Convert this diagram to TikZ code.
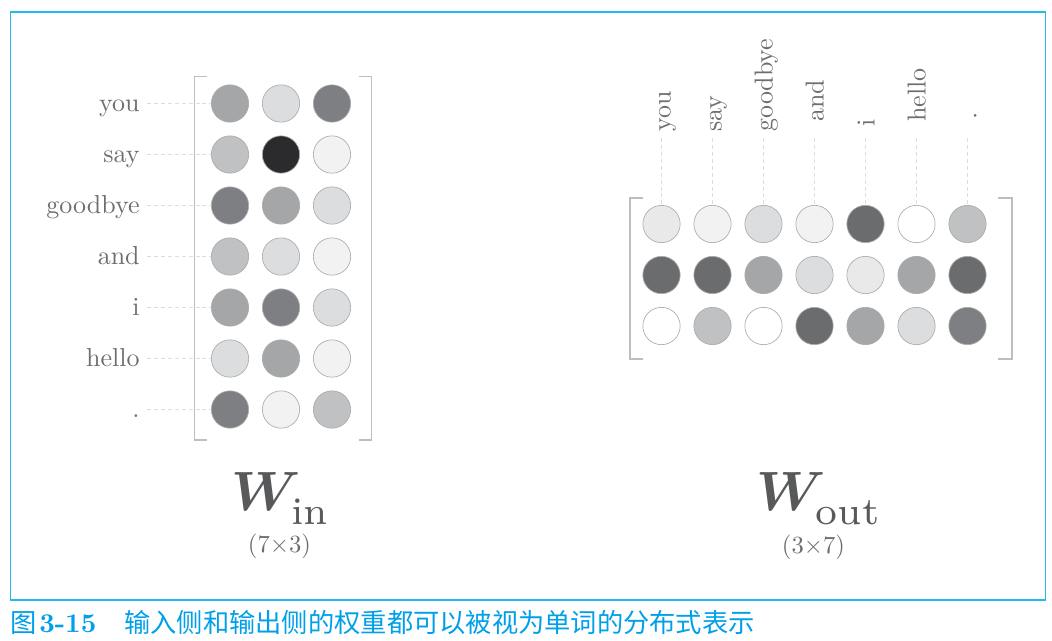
\documentclass[tikz,border=0pt]{standalone}
\usepackage{amsmath}
\usepackage{fontspec}
\newfontfamily\cjk{Noto Sans CJK SC}
\newfontfamily\lmten{lmroman10-regular}[Extension=.otf, BoldFont=lmroman10-bold]
\usetikzlibrary{calc}

\definecolor{shW}{HTML}{FFFFFF}
\definecolor{shA}{HTML}{F2F2F2}
\definecolor{shB}{HTML}{E9E9E9}
\definecolor{shC}{HTML}{DCDDDF}
\definecolor{shD}{HTML}{C0C1C3}
\definecolor{shE}{HTML}{A5A6A8}
\definecolor{shF}{HTML}{7E7F83}
\definecolor{shG}{HTML}{6B6C6E}
\definecolor{shH}{HTML}{2B2A2C}
\definecolor{rimgray}{HTML}{ABACAE}
\definecolor{guidegray}{HTML}{DCDDDE}
\definecolor{brackgray}{HTML}{BDBEC0}
\definecolor{wordgray}{HTML}{6D6E71}
\definecolor{namegray}{HTML}{58595B}
\definecolor{capblue}{RGB}{0,160,233}
\definecolor{frameblue}{RGB}{40,185,236}

\begin{document}
\begin{tikzpicture}[
    x=0.75pt, y=-0.75pt,
    line width=0.5pt,
    every node/.style={inner sep=0pt},
    dot/.style={circle, minimum size=28pt, draw=rimgray, line width=0.5pt},
    word/.style={text=wordgray, font=\lmten\fontsize{19.5}{22}\selectfont},
    guide/.style={draw=guidegray, dash pattern=on 3pt off 2.2pt, line width=0.6pt},
    bracket/.style={draw=brackgray, line width=1pt},
    wname/.style={text=namegray, scale=4.15},
    wsize/.style={text=wordgray, font=\lmten\fontsize{18.5}{22}\selectfont},
    frame/.style={draw=frameblue, line width=1.1pt},
  ]

  \useasboundingbox (0,0) rectangle (1052,640);

  % ---- frame and caption ---------------------------------------------
  \draw[frame] (10.5,12) rectangle (1045.5,600);
  \node[anchor=base west, text=capblue] (fignum) at (10,632)
    {{\cjk\fontsize{19.7}{20}\selectfont 图}\hspace{2pt}{\lmten\fontsize{20.3}{22}\selectfont\bfseries 3-15}};
  \node[anchor=base west, text=capblue, font=\cjk\fontsize{19.7}{22}\selectfont] (figcap) at (124,632)
    {输入侧和输出侧的权重都可以被视为单词的分布式表示};

  % ---- W_in : one row per word ---------------------------------------
  \def\inx{230}      % first column
  \def\iny{103.5}    % first row
  \def\pitch{51}     % circle spacing

  \foreach \r/\word/\cs in {1/you/{shE,shC,shF}, 2/say/{shD,shH,shA},
      3/goodbye/{shF,shE,shC}, 4/and/{shD,shC,shA}, 5/i/{shE,shF,shC},
      6/hello/{shC,shE,shA}, 7/./{shF,shA,shD}}{
    \pgfmathsetmacro{\yy}{\iny+(\r-1)*\pitch}
    \node[word, anchor=base east] (inw-\r) at (140,\yy+7.5) {\word};
    \foreach \c [count=\k] in \cs
      \node[dot, fill=\c] (in-\r-\k) at (\inx+\k*\pitch-\pitch,\yy) {};
    \coordinate (inlead-\r) at (147,\yy);
    \draw[guide] (inlead-\r) -- (in-\r-1.west);
  }

  \draw[bracket] (207,76.7) -| (194.3,440) -- (207,440);
  \draw[bracket] (359,76.7) -| (371.7,440) -- (359,440);

  % ---- W_out : one column per word -----------------------------------
  \def\outx{661.5}
  \def\outy{224}

  \foreach \r/\cs in {1/{shB,shA,shC,shA,shG,shW,shD},
      2/{shG,shG,shE,shC,shB,shE,shG}, 3/{shW,shD,shW,shG,shE,shC,shF}}{
    \foreach \c [count=\k] in \cs
      \node[dot, fill=\c] (out-\r-\k) at (\outx+\k*\pitch-\pitch,\outy+\r*\pitch-\pitch) {};
  }

  \foreach \k/\word/\lift in {1/you/132, 2/say/132, 3/goodbye/132, 4/and/122,
      5/i/127, 6/hello/122, 7/./120}{
    \node[word, rotate=90, anchor=base west] (outw-\k)
      at (\outx+\k*\pitch-\pitch+9,\lift) {\word};
    \coordinate (outlead-\k) at (\outx+\k*\pitch-\pitch,138);
    \draw[guide] (outlead-\k) -- (out-1-\k.north);
  }

  \draw[bracket] (643,198) -| (630,359) -- (643,359);
  \draw[bracket] (998,198) -| (1012,359) -- (998,359);

  % ---- names and sizes -----------------------------------------------
  \node[wname, anchor=base] (win) at (281.5,510)
    {$\boldsymbol{W}_{\kern-1.8pt\raisebox{-1.1pt}{$\scriptstyle\mathrm{in}$}}$};
  \node[wsize, anchor=base] (winsize) at (279.5,552) {(7×3)};
  \node[wname, anchor=base] (wout) at (819.5,510)
    {$\boldsymbol{W}_{\kern-1.8pt\raisebox{-1.1pt}{$\scriptstyle\mathrm{out}$}}$};
  \node[wsize, anchor=base] (woutsize) at (813.5,553) {(3×7)};

\end{tikzpicture}
\end{document}
